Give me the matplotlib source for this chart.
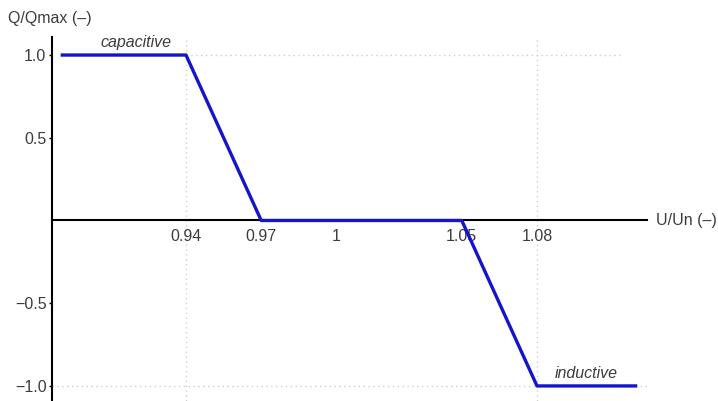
import matplotlib
matplotlib.use("Agg")
import matplotlib.pyplot as plt

plt.rcParams['font.family'] = ['Liberation Sans', 'DejaVu Sans']

# Data
u_points = [0.89, 0.94, 0.97, 1.05, 1.08, 1.12]
q_points = [1.0, 1.0, 0.0, 0.0, -1.0, -1.0]
x_ticks = [0.94, 0.97, 1.0, 1.05, 1.08]
x_tick_labels = ["0.94", "0.97", "1", "1.05", "1.08"]
y_ticks = [1.0, 0.5, -0.5, -1.0]
y_tick_labels = ["1.0", "0.5", "\u22120.5", "\u22121.0"]
grid_u = [0.94, 1.08]
grid_q = [1.0, -1.0]

W, H = 718, 401
fig = plt.figure(figsize=(W / 100, H / 100), dpi=100)
ax = fig.add_axes([52 / W, 0.0, 595 / W, 364 / H])
ax.set_xlim(0.88655, 1.12388)
ax.set_ylim(-1.091, 1.109)

text_color = '#3c3c3c'
fs = 11.5
grid_kw = dict(color='#cfcfc8', linestyle=(0, (1, 2.5)), linewidth=1.0, zorder=1)

# dotted grid lines
for g in grid_u:
    ax.axvline(g, **grid_kw)
ax.plot([0.94, 1.114], [grid_q[0], grid_q[0]], **grid_kw)
ax.plot([0.88655, 1.124], [grid_q[1], grid_q[1]], **grid_kw)

# main curve
ax.plot(u_points, q_points, color='#1414cc', linewidth=2.4, zorder=3, solid_capstyle='butt')

# spines
for s in ['top', 'right']:
    ax.spines[s].set_visible(False)
ax.spines['bottom'].set_position(('data', 0))
ax.spines['bottom'].set_linewidth(1.5)
ax.spines['left'].set_linewidth(1.5)
ax.spines['bottom'].set_zorder(2)

ax.set_xticks(x_ticks)
ax.set_xticklabels(x_tick_labels)
ax.set_yticks(y_ticks)
ax.set_yticklabels(y_tick_labels)
ax.tick_params(axis='x', length=0, pad=6, labelsize=fs, labelcolor=text_color)
ax.tick_params(axis='y', length=2, width=1, pad=2, labelsize=fs, labelcolor=text_color)

# annotations
ax.text(0.9201, 1.03, "capacitive", style='italic', fontsize=fs, color=text_color,
        ha='center', va='bottom')
ax.text(1.0995, -0.97, "inductive", style='italic', fontsize=fs, color=text_color,
        ha='center', va='bottom')

fig.text(8 / W, 1 - 18 / H, "Q/Qmax (\u2013)", fontsize=fs, color=text_color,
         ha='left', va='center')
fig.text(656 / W, 1 - 221 / H, "U/Un (\u2013)", fontsize=fs, color=text_color,
         ha='left', va='center')

fig.savefig("out.png", dpi=100)
